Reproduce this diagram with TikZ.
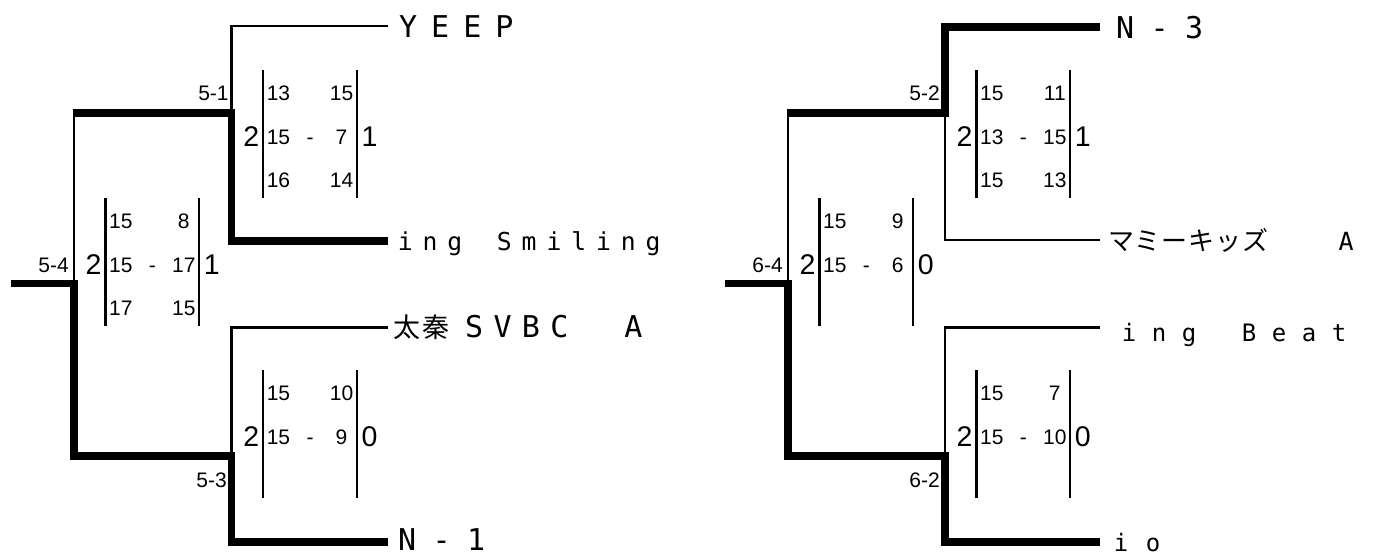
\documentclass[tikz,border=0pt]{standalone}
\usepackage{fontspec}
\setmainfont{Liberation Sans}
\newfontfamily\cjkfont{Noto Sans CJK JP}
\newfontfamily\monofont{DejaVu Sans Mono}
\begin{document}
\begin{tikzpicture}[x=1pt,y=-1pt,
  thinln/.style={line width=2.6pt},
  wonln/.style={line width=7.6pt, line join=miter},
  barln/.style={line width=2.6pt},
  sc/.style={inner sep=0pt, anchor=base, font=\fontsize{21}{25}\selectfont},
  bigsc/.style={inner sep=0pt, anchor=base, font=\fontsize{28.5}{34}\selectfont},
  lbl/.style={inner sep=0pt, anchor=base east, font=\fontsize{21}{25}\selectfont},
  team/.style={inner sep=0pt, anchor=base west},
]
\useasboundingbox (0,0) rectangle (1374,555);

% ---------- left bracket ----------
\coordinate (L0) at (11,283.5);
\coordinate (LA) at (74,283.5);
\coordinate (LB) at (74,456);
\coordinate (LC) at (231.5,456);
\coordinate (LD) at (231.5,542);
\coordinate (LE) at (388,542);
\coordinate (LF) at (72.7,113);
\coordinate (LFv) at (74,113);
\coordinate (LG) at (231.5,113);
\coordinate (LH) at (231.5,241);
\coordinate (LI) at (388,241);
\coordinate (LJ) at (231.5,26);
\coordinate (LK) at (388,26);
\coordinate (LM) at (231.5,327.5);
\coordinate (LN) at (388,327.5);

\draw[thinln] (LA) -- (LFv);
\draw[thinln] (LG) -- (LJ) -- (LK);
\draw[thinln] (LC) -- (LM) -- (LN);
\draw[wonln] (L0) -- (LA) -- (LB) -- (LC) -- (LD) -- (LE);
\draw[wonln] (LF) -- (LG) -- (LH) -- (LI);

% ---------- right bracket ----------
\coordinate (R0) at (725,283.5);
\coordinate (RA) at (788,283.5);
\coordinate (RB) at (788,456);
\coordinate (RC) at (945,456);
\coordinate (RD) at (945,542);
\coordinate (RE) at (1100,542);
\coordinate (RF) at (786.7,113);
\coordinate (RFv) at (788,113);
\coordinate (RG) at (945,113);
\coordinate (RH) at (945,27);
\coordinate (RI) at (1100,27);
\coordinate (RJ) at (945,240);
\coordinate (RK) at (1100,240);
\coordinate (RM) at (945,327.5);
\coordinate (RN) at (1100,327.5);

\draw[thinln] (RA) -- (RFv);
\draw[thinln] (RG) -- (RJ) -- (RK);
\draw[thinln] (RC) -- (RM) -- (RN);
\draw[wonln] (R0) -- (RA) -- (RB) -- (RC) -- (RD) -- (RE);
\draw[wonln] (RF) -- (RG) -- (RH) -- (RI);

% ---------- score blocks ----------
\foreach \n/\L/\T/\a/\b/\c/\d/\e/\f/\g/\h in {
  s51/263/70/13/15/15/7/16/14/2/1,
  s54/105.3/198/15/8/15/17/17/15/2/1,
  s53/263/370/15/10/15/9/{}/{}/2/0,
  s52/976.3/70/15/11/13/15/15/13/2/1,
  s64/819.3/198/15/9/15/6/{}/{}/2/0,
  s62/976.3/370/15/7/15/10/{}/{}/2/0}
{
  \draw[barln] (\L,\T) -- (\L,\T+128.3);
  \draw[barln] (\L+93.8,\T) -- (\L+93.8,\T+128.3);
  \node[sc] (\n-tl) at (\L+15.5,\T+30) {\a};
  \node[sc] (\n-tr) at (\L+78.5,\T+30) {\b};
  \node[sc] (\n-ml) at (\L+15.5,\T+74.3) {\c};
  \node[sc] (\n-md) at (\L+47,\T+74.3) {-};
  \node[sc] (\n-mr) at (\L+78.5,\T+74.3) {\d};
  \node[sc] (\n-bl) at (\L+15.5,\T+117) {\e};
  \node[sc] (\n-br) at (\L+78.5,\T+117) {\f};
  \node[bigsc] (\n-w) at (\L-11.8,\T+76.7) {\g};
  \node[bigsc] (\n-r) at (\L+106.6,\T+76.7) {\h};
}

% ---------- match labels ----------
\node[lbl] (m51) at (228.8,100) {5-1};
\node[lbl] (m54) at (69,272) {5-4};
\node[lbl] (m53) at (227,487) {5-3};
\node[lbl] (m52) at (940,100) {5-2};
\node[lbl] (m64) at (783,272) {6-4};
\node[lbl] (m62) at (940,487) {6-2};

% ---------- team names ----------
\node[team] (tA) at (399,37)
  {\fontsize{30}{36}\monofont\addfontfeature{LetterSpace=46.7}YEEP};
\node[team] (tB) at (397.6,250)
  {\fontsize{24.7}{30}\monofont\addfontfeature{LetterSpace=40.2}\spaceskip=34.7pt\relax ing Smiling};
\node[team] (tC) at (393,337)
  {{\fontsize{27}{32}\cjkfont\addfontfeature{LetterSpace=7.4}太秦}\hspace{16pt}{\fontsize{30}{36}\monofont\addfontfeature{LetterSpace=34.4}\spaceskip=56pt\relax SVBC A}};
\node[team] (tD) at (398,550)
  {\fontsize{30}{36}\monofont\addfontfeature{LetterSpace=54.8}N-1};
\node[team] (tE) at (1116,38)
  {\fontsize{30}{36}\monofont\addfontfeature{LetterSpace=54.8}N-3};
\node[team] (tF) at (1108,250)
  {\fontsize{26}{31}\cjkfont\addfontfeature{LetterSpace=3}\spaceskip=70.5pt\relax マミーキッズ {\fontsize{25}{30}\monofont A}};
\node[team] (tG) at (1121.7,341)
  {\fontsize{24}{29}\monofont\addfontfeature{LetterSpace=64.8}\spaceskip=45.5pt\relax ing Beat};
\node[team] (tH) at (1113.7,551)
  {\fontsize{24}{29}\monofont\addfontfeature{LetterSpace=73}io};
\end{tikzpicture}
\end{document}
